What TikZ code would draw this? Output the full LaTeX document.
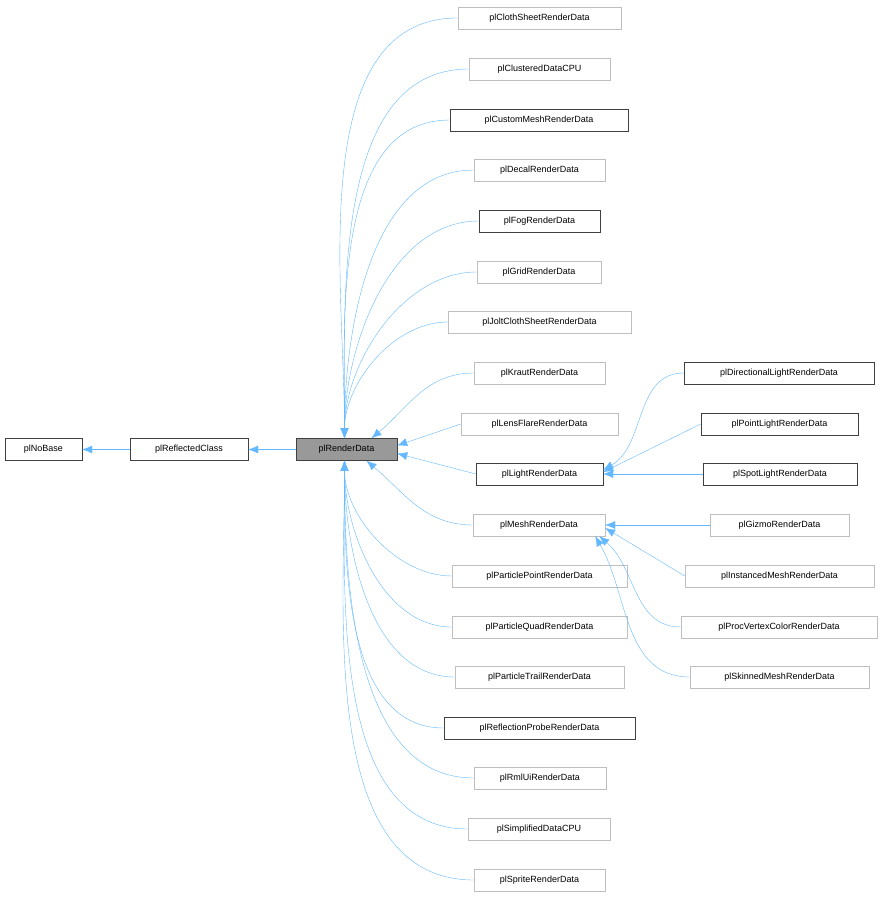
\documentclass[tikz,border=0pt]{standalone}
\usepackage{fontspec}
\setmainfont{Liberation Sans}
\usetikzlibrary{arrows.meta}
\definecolor{edgec}{HTML}{63B8FF}
\definecolor{lightb}{HTML}{BFBFBF}
\definecolor{darkb}{HTML}{404040}
\begin{document}
\begin{tikzpicture}[x=1pt,y=1pt,
  box/.style={draw=lightb,fill=white,minimum height=22pt,inner sep=0pt,font=\fontsize{9}{10}\selectfont},
  dbox/.style={box,draw=darkb},
  edge/.style={draw=edgec,{Latex[length=10pt,width=8pt]}-}]
\useasboundingbox (0,0) rectangle (882,-899);
\node[dbox,minimum width=77pt] (nb) at (43.5,-449.5) {plNoBase};
\node[dbox,minimum width=118pt] (rc) at (189,-449.5) {plReflectedClass};
\node[dbox,fill=black!40,minimum width=101pt] (rd) at (346.5,-449.5) {plRenderData};
\node[box,minimum width=163pt] (c1) at (539.5,-18) {plClothSheetRenderData};
\node[box,minimum width=141pt] (c2) at (539.5,-69) {plClusteredDataCPU};
\node[dbox,minimum width=178pt] (c3) at (539,-120) {plCustomMeshRenderData};
\node[box,minimum width=131pt] (c4) at (539.5,-170) {plDecalRenderData};
\node[dbox,minimum width=121pt] (c5) at (539.5,-221) {plFogRenderData};
\node[box,minimum width=124pt] (c6) at (539,-272) {plGridRenderData};
\node[box,minimum width=183pt] (c7) at (539.5,-322) {plJoltClothSheetRenderData};
\node[box,minimum width=131pt] (c8) at (539.5,-373) {plKrautRenderData};
\node[box,minimum width=157pt] (c9) at (539.5,-424) {plLensFlareRenderData};
\node[dbox,minimum width=127pt] (li) at (539.5,-474) {plLightRenderData};
\node[box,minimum width=132pt] (me) at (539,-525) {plMeshRenderData};
\node[box,minimum width=175pt] (c12) at (539.5,-576) {plParticlePointRenderData};
\node[box,minimum width=175pt] (c13) at (539.5,-627) {plParticleQuadRenderData};
\node[box,minimum width=169pt] (c14) at (539.5,-677) {plParticleTrailRenderData};
\node[dbox,minimum width=191pt] (c15) at (539.5,-728) {plReflectionProbeRenderData};
\node[box,minimum width=132pt] (c16) at (540,-778) {plRmlUiRenderData};
\node[box,minimum width=142pt] (c17) at (539,-829) {plSimplifiedDataCPU};
\node[box,minimum width=131pt] (c18) at (539.5,-880) {plSpriteRenderData};
\node[dbox,minimum width=190pt] (l1) at (779,-373) {plDirectionalLightRenderData};
\node[dbox,minimum width=157pt] (l2) at (779.5,-424) {plPointLightRenderData};
\node[dbox,minimum width=154pt] (l3) at (780,-474) {plSpotLightRenderData};
\node[box,minimum width=139pt] (m1) at (779.5,-525) {plGizmoRenderData};
\node[box,minimum width=189pt] (m2) at (779.5,-576) {plInstancedMeshRenderData};
\node[box,minimum width=196pt] (m3) at (779,-627) {plProcVertexColorRenderData};
\node[box,minimum width=179pt] (m4) at (779.5,-677) {plSkinnedMeshRenderData};
\draw[edge] (nb.east) -- (rc.west);
\draw[edge] (rc.east) -- (rd.west);
\foreach \c/\l in {c1/0.9,c2/0.9,c3/0.9,c4/0.9,c5/0.9,c6/0.9,c7/0.9}
  \draw[edge] ([xshift=-2pt]rd.north) to[out=90,in=180,looseness=\l] (\c.west);
\draw[edge] ([xshift=25pt]rd.north) to[out=40,in=180] (c8.west);
\draw[edge] ([yshift=4pt]rd.east) -- (c9.west);
\draw[edge] ([yshift=-4pt]rd.east) -- (li.west);
\draw[edge] ([xshift=20pt]rd.south) to[out=-40,in=180] (me.west);
\foreach \c in {c12,c13,c14,c15,c16,c17,c18}
  \draw[edge] ([xshift=-2pt]rd.south) to[out=-90,in=180,looseness=0.9] (\c.west);
\draw[edge] ([yshift=4pt]li.east) to[out=30,in=180] (l1.west);
\draw[edge] ([yshift=2pt]li.east) -- (l2.west);
\draw[edge] (li.east) -- (l3.west);
\draw[edge] (me.east) -- (m1.west);
\draw[edge] ([yshift=-3pt]me.east) -- (m2.west);
\draw[edge] ([xshift=-6pt]me.south east) to[out=-40,in=180] (m3.west);
\draw[edge] ([xshift=-10pt]me.south east) to[out=-60,in=180] (m4.west);
\end{tikzpicture}
\end{document}
